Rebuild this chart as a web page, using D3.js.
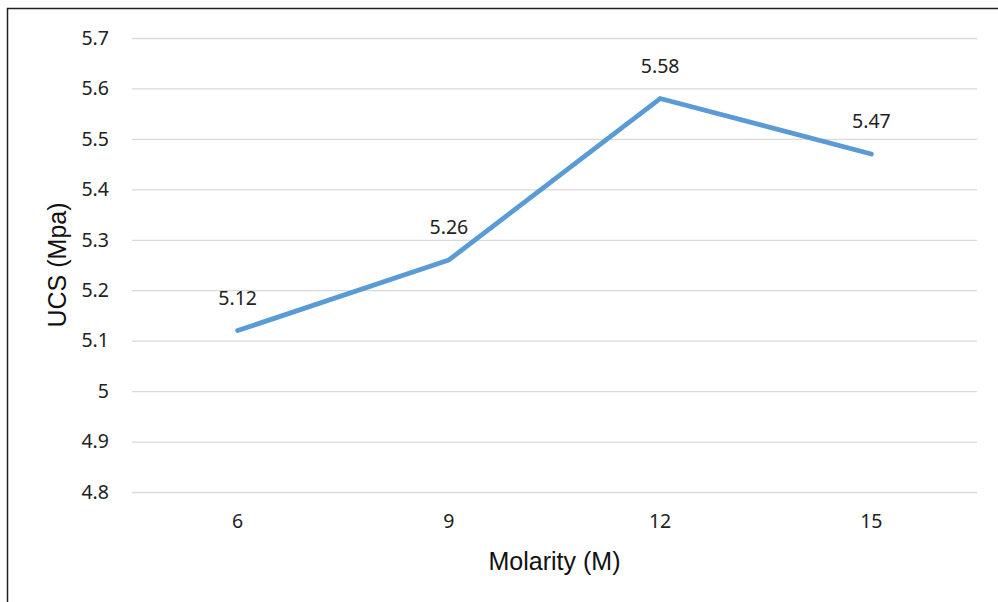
<!DOCTYPE html>
<html>
<head>
<meta charset="utf-8">
<script src="https://cdn.jsdelivr.net/npm/d3@7"></script>
<style>
  body { margin: 0; background: #fff; }
  svg { display: block; }
</style>
</head>
<body>
<div id="chart"></div>
<script>
// UCS vs Molarity line chart

var width = 998;
var height = 602;
var margin = { top: 38, right: 21, bottom: 110, left: 132 };

var categories = ['6', '9', '12', '15'];
var ucsValues = [5.12, 5.26, 5.58, 5.47];
var yTicks = [4.8, 4.9, 5, 5.1, 5.2, 5.3, 5.4, 5.5, 5.6, 5.7];

var tickFont = '"Noto Sans", "Open Sans", sans-serif';
var titleFont = '"Liberation Sans", Arial, sans-serif';
var tickSize = '19.5px';

var svg = d3.select('#chart').append('svg')
  .attr('width', width)
  .attr('height', height);

// outer frame
svg.append('rect')
  .attr('x', 7.5)
  .attr('y', 8.5)
  .attr('width', width + 10)
  .attr('height', height + 10)
  .style('fill', 'none')
  .style('stroke', '#222')
  .style('stroke-width', 1.5);

var x = d3.scaleBand()
  .domain(categories)
  .range([margin.left, width - margin.right]);

var y = d3.scaleLinear()
  .domain([4.8, 5.7])
  .range([height - margin.bottom, margin.top]);

// gridlines
svg.append('g')
  .attr('class', 'grid')
  .attr('transform', 'translate(' + margin.left + ',0)')
  .call(d3.axisLeft(y).tickValues(yTicks)
    .tickSize(-(width - margin.left - margin.right)).tickFormat(''))
  .call(function(g){ g.select('.domain').remove(); })
  .selectAll('line')
  .style('stroke', '#d9d9d9')
  .style('stroke-width', 1.3);

// y tick labels
var yAxis = svg.append('g')
  .attr('transform', 'translate(' + margin.left + ',0)')
  .call(d3.axisLeft(y).tickValues(yTicks).tickSize(0).tickPadding(23)
    .tickFormat(d3.format('')));
yAxis.select('.domain').remove();
yAxis.selectAll('text')
  .style('font-family', tickFont)
  .style('font-size', tickSize)
  .style('fill', '#222');

// x tick labels
var xAxis = svg.append('g')
  .attr('transform', 'translate(0,' + (height - margin.bottom) + ')')
  .call(d3.axisBottom(x).tickSize(0).tickPadding(22));
xAxis.select('.domain').remove();
xAxis.selectAll('text')
  .style('font-family', tickFont)
  .style('font-size', tickSize)
  .style('fill', '#222');

// line
var line = d3.line()
  .x(function(d, i){ return x(categories[i]) + x.bandwidth() / 2; })
  .y(function(d){ return y(d); });

svg.append('path')
  .datum(ucsValues)
  .attr('d', line)
  .style('fill', 'none')
  .style('stroke', '#5b9bd5')
  .style('stroke-width', 4.8)
  .style('stroke-linecap', 'round')
  .style('stroke-linejoin', 'round');

// data labels
svg.append('g').selectAll('text')
  .data(ucsValues)
  .enter().append('text')
  .attr('x', function(d, i){ return x(categories[i]) + x.bandwidth() / 2; })
  .attr('y', function(d){ return y(d) - 26; })
  .attr('text-anchor', 'middle')
  .style('font-family', tickFont)
  .style('font-size', tickSize)
  .style('fill', '#222')
  .text(function(d){ return d3.format('.2f')(d); });

// axis titles
svg.append('text')
  .attr('x', (margin.left + width - margin.right) / 2)
  .attr('y', 570)
  .attr('text-anchor', 'middle')
  .style('font-family', titleFont)
  .style('font-size', '25px')
  .style('fill', '#111')
  .text('Molarity (M)');

svg.append('text')
  .attr('transform', 'translate(66,' + ((margin.top + height - margin.bottom) / 2) + ') rotate(-90)')
  .attr('text-anchor', 'middle')
  .style('font-family', titleFont)
  .style('font-size', '25px')
  .style('fill', '#111')
  .text('UCS (Mpa)');
</script>
</body>
</html>
